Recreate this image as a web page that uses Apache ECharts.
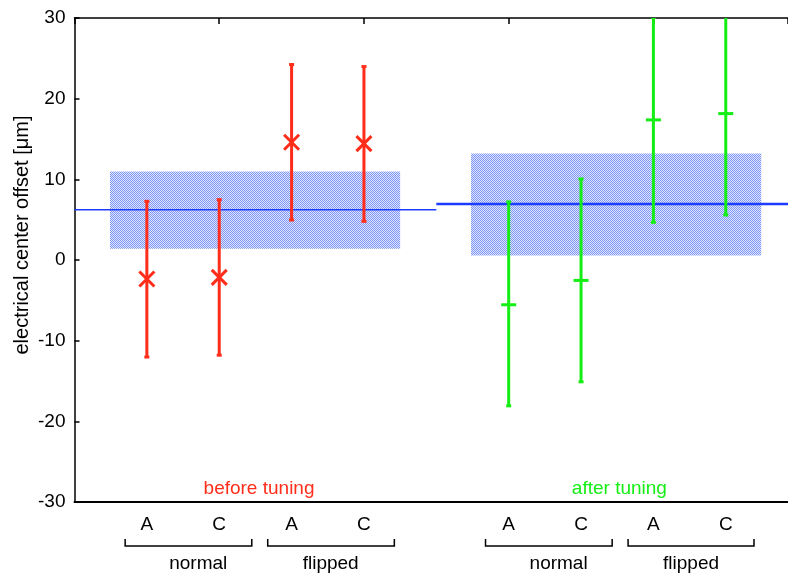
<!DOCTYPE html>
<html>
<head>
<meta charset="utf-8">
<script src="https://cdn.jsdelivr.net/npm/echarts@6/dist/echarts.min.js"></script>
<style>
html, body { margin: 0; padding: 0; background: #fff; }
#main { width: 788px; height: 580px; }
</style>
</head>
<body>
<div id="main"></div>
<script>
// data
var tickLabels = ['', 'A', 'C', 'A', 'C', '', 'A', 'C', 'A', 'C', ''];
var beforeX = [1, 2, 3, 4];
var beforeMid = [-2.36, -2.15, 14.59, 14.43];
var beforeLow = [-12.03, -11.8, 4.96, 4.79];
var beforeHigh = [7.27, 7.48, 24.23, 23.98];
var afterX = [6, 7, 8, 9];
var afterMid = [-5.55, -2.53, 17.37, 18.15];
var afterLow = [-18.08, -15.1, 4.67, 5.58];
var afterHigh = [7.2, 10.05, 30.07, 30.72];
// bands: [x0, x1, y0, y1]
var beforeBand = [0.49, 4.5, 1.4, 10.96];
var afterBand = [5.48, 9.49, 0.57, 13.19];
var beforeMean = 6.24;
var afterMean = 6.95;
var groupNames = ['normal', 'flipped', 'normal', 'flipped'];
var groupStart = [0.70, 2.67, 5.68, 7.65];
var groupEnd = [2.45, 4.42, 7.43, 9.39];
var groupLabelX = [1.71, 3.54, 6.69, 8.52];
var stageNames = ['before tuning', 'after tuning'];
var stageX = [2.55, 7.53];

var RED = '#ff2d19';
var GREEN = '#14ee14';
var BLUE = '#1e3cff';
var FONT = '"Liberation Sans", Arial, Helvetica, sans-serif';
var XMAX = 9.86; // the picture is cut off just before x = 10

// stippled fill like the original
var pat = document.createElement('canvas');
pat.width = 2; pat.height = 2;
var pc = pat.getContext('2d');
pc.fillStyle = '#e2e7fd'; pc.fillRect(0, 0, 2, 2);
pc.fillStyle = '#7c94f4'; pc.fillRect(0, 0, 1, 1); pc.fillRect(1, 1, 1, 1);

function zipErr(xs, mid, lo, hi) {
    return xs.map(function (x, i) { return [x, mid[i], lo[i], hi[i]]; });
}

function errRender(color, kind) {
    return function (params, api) {
        var x = api.value(0);
        var pm = api.coord([x, api.value(1)]);
        var pl = api.coord([x, api.value(2)]);
        var ph = api.coord([x, api.value(3)]);
        var st = { stroke: color, lineWidth: 3 };
        var c = 2.5, m = 7.5;
        var kids = [
            { type: 'line', shape: { x1: pl[0], y1: pl[1], x2: ph[0], y2: ph[1] }, style: st },
            { type: 'line', shape: { x1: pl[0] - c, y1: pl[1], x2: pl[0] + c, y2: pl[1] }, style: st },
            { type: 'line', shape: { x1: ph[0] - c, y1: ph[1], x2: ph[0] + c, y2: ph[1] }, style: st }
        ];
        if (kind === 'x') {
            kids.push({ type: 'line', shape: { x1: pm[0] - m, y1: pm[1] - m, x2: pm[0] + m, y2: pm[1] + m }, style: st });
            kids.push({ type: 'line', shape: { x1: pm[0] - m, y1: pm[1] + m, x2: pm[0] + m, y2: pm[1] - m }, style: st });
        } else {
            kids.push({ type: 'line', shape: { x1: pm[0] - m, y1: pm[1], x2: pm[0] + m, y2: pm[1] }, style: st });
        }
        return { type: 'group', children: kids };
    };
}

function bandRender(params, api) {
    var p0 = api.coord([api.value(0), api.value(3)]);
    var p1 = api.coord([api.value(1), api.value(2)]);
    return {
        type: 'rect',
        shape: { x: p0[0], y: p0[1], width: p1[0] - p0[0], height: p1[1] - p0[1] },
        style: { fill: { image: pat, repeat: 'repeat' } }
    };
}

var myChart = echarts.init(document.getElementById('main'));

var option = {
    animation: false,
    backgroundColor: '#fff',
    textStyle: { fontFamily: FONT },
    grid: { left: 74.5, right: 0, top: 18, bottom: 78, outerBoundsMode: 'none' },
    xAxis: [{
        type: 'value', min: 0, max: XMAX, interval: 1, position: 'bottom',
        axisLine: { onZero: false, lineStyle: { color: '#000', width: 2 } },
        axisTick: { show: false },
        splitLine: { show: false },
        axisLabel: {
            margin: 13, fontSize: 19, color: '#000', fontFamily: FONT,
            formatter: function (v) { return tickLabels[v] || ''; }
        }
    }, {
        type: 'value', min: 0, max: XMAX, interval: 2, position: 'top',
        axisLine: { onZero: false, lineStyle: { color: '#000', width: 1.5 } },
        axisTick: { inside: true, length: 6, lineStyle: { color: '#000', width: 1.5 } },
        axisLabel: { show: false },
        splitLine: { show: false }
    }],
    yAxis: {
        type: 'value', min: -30, max: 30, interval: 10,
        axisLine: { onZero: false, lineStyle: { color: '#000', width: 1.5 } },
        axisTick: { inside: true, length: 5, lineStyle: { color: '#000', width: 1.5 } },
        splitLine: { show: false },
        axisLabel: { margin: 9, fontSize: 19, color: '#000', fontFamily: FONT }
    },
    graphic: [{
        type: 'text', x: 22, y: 235, rotation: Math.PI / 2,
        style: {
            text: 'electrical center offset [\u03bcm]', fill: '#000',
            font: '20px ' + FONT, align: 'center', verticalAlign: 'middle'
        }
    }],
    series: [{
        type: 'custom', renderItem: bandRender, z: 1, clip: true,
        data: [beforeBand, afterBand]
    }, {
        type: 'line', symbol: 'none', z: 2,
        lineStyle: { color: BLUE, width: 1.5 },
        data: [[0, beforeMean], [5, beforeMean]]
    }, {
        type: 'line', symbol: 'none', z: 2,
        lineStyle: { color: BLUE, width: 2.5 },
        data: [[5, afterMean], [XMAX, afterMean]]
    }, {
        type: 'custom', renderItem: errRender(RED, 'x'), z: 3, clip: true,
        data: zipErr(beforeX, beforeMid, beforeLow, beforeHigh)
    }, {
        type: 'custom', renderItem: errRender(GREEN, '+'), z: 3, clip: true,
        data: zipErr(afterX, afterMid, afterLow, afterHigh)
    }, {
        // stage captions just above the lower border
        type: 'custom', clip: false, z: 4,
        data: stageX.map(function (x, i) { return [x, -30, i]; }),
        renderItem: function (params, api) {
            var p = api.coord([api.value(0), -30]);
            var i = api.value(2);
            return {
                type: 'text', x: p[0], y: p[1] - 13,
                style: {
                    text: stageNames[i], fill: i === 0 ? RED : GREEN,
                    font: '19px ' + FONT, align: 'center', verticalAlign: 'middle'
                }
            };
        }
    }, {
        // brackets under the A/C labels
        type: 'custom', clip: false, z: 4,
        data: groupStart.map(function (s, i) { return [s, -30, groupEnd[i], groupLabelX[i], i]; }),
        renderItem: function (params, api) {
            var a = api.coord([api.value(0), -30]);
            var b = api.coord([api.value(2), -30]);
            var t = api.coord([api.value(3), -30]);
            var y0 = a[1] + 37, y1 = a[1] + 44;
            return {
                type: 'group', children: [{
                    type: 'polyline',
                    shape: { points: [[a[0], y0], [a[0], y1], [b[0], y1], [b[0], y0]] },
                    style: { stroke: '#000', lineWidth: 1.5, fill: null }
                }, {
                    type: 'text', x: t[0], y: a[1] + 62,
                    style: {
                        text: groupNames[api.value(4)], fill: '#000',
                        font: '19px ' + FONT, align: 'center', verticalAlign: 'middle'
                    }
                }]
            };
        }
    }]
};

myChart.setOption(option);
</script>
</body>
</html>
